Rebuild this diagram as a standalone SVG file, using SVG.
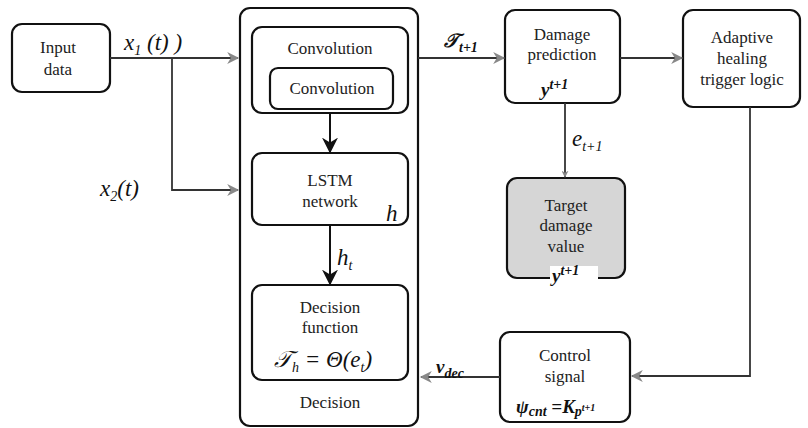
<svg xmlns="http://www.w3.org/2000/svg" width="808" height="428" viewBox="0 0 808 428">
<style>
text{font-family:"Liberation Serif","Times New Roman","DejaVu Serif",serif}
.box{fill:#fff;stroke:#111;stroke-width:2.2}
.gbox{fill:#d6d6d6;stroke:#111;stroke-width:2.2}
.t{font-size:17px;fill:#222;text-anchor:middle}
.m{font-style:italic;font-size:23px;fill:#111}
.mb{font-style:italic;font-weight:bold;font-size:19px;fill:#111}
.sub{font-size:14px}
.c{fill:none;stroke:#333;stroke-width:1.8}
.cb{fill:none;stroke:#111;stroke-width:2}
</style>
<defs>
<marker id="ga" viewBox="0 0 10 10" refX="9" refY="5" markerWidth="7" markerHeight="7" markerUnits="userSpaceOnUse" orient="auto">
<path d="M0,0 L10,5 L0,10 L3,5 Z" fill="#888"/>
</marker>
<marker id="ga2" viewBox="0 0 10 10" refX="9" refY="5" markerWidth="14" markerHeight="12" markerUnits="userSpaceOnUse" orient="auto">
<path d="M0,0 L10,5 L0,10 L3,5 Z" fill="#888"/>
</marker>
<marker id="ba" viewBox="0 0 10 10" refX="9" refY="5" markerWidth="16" markerHeight="16" markerUnits="userSpaceOnUse" orient="auto">
<path d="M0,0 L10,5 L0,10 L3,5 Z" fill="#111"/>
</marker>
</defs>
<g id="input">
<rect class="box" x="12" y="24" width="98" height="68" rx="10"/>
<text class="t" x="58" y="53">Input</text>
<text class="t" x="58" y="75">data</text>
</g>
<g id="decision">
<rect class="box" x="240" y="8" width="178" height="418" rx="10"/>
<text class="t" x="330" y="408">Decision</text>
</g>
<g id="convolution">
<rect class="box" x="252" y="27" width="156" height="86" rx="10"/>
<text class="t" x="330" y="54">Convolution</text>
</g>
<g id="convolution-inner">
<rect class="box" x="270" y="68" width="123" height="41" rx="8"/>
<text class="t" x="332" y="94">Convolution</text>
</g>
<g id="lstm">
<rect class="box" x="252" y="153" width="156" height="72" rx="10"/>
<text class="t" x="330" y="186">LSTM</text>
<text class="t" x="330" y="207">network</text>
<text class="m" x="386" y="221">h</text>
</g>
<g id="decision-function">
<rect class="box" x="252" y="285" width="156" height="95" rx="10"/>
<text class="t" x="330" y="313">Decision</text>
<text class="t" x="330" y="333">function</text>
<text class="m" x="274" y="367">𝒯<tspan class="sub" dy="5">h</tspan><tspan dy="-5">  = Θ(e</tspan><tspan class="sub" dy="5">t</tspan><tspan dy="-5">)</tspan></text>
</g>
<g id="damage-prediction">
<rect class="box" x="505" y="10" width="115" height="93" rx="10"/>
<text class="t" x="562" y="40">Damage</text>
<text class="t" x="562" y="60">prediction</text>
<text class="mb" x="541" y="96">y<tspan class="sub" dy="-7">t+1</tspan></text>
</g>
<g id="target">
<rect class="gbox" x="507" y="178" width="118" height="100" rx="10"/>
<text class="t" x="566" y="211">Target</text>
<text class="t" x="566" y="231">damage</text>
<text class="t" x="566" y="252">value</text>
<rect x="550" y="266" width="48" height="18" fill="#fff"/>
<text class="mb" x="552" y="282">y<tspan class="sub" dy="-7">t+1</tspan></text>
</g>
<g id="adaptive">
<rect class="box" x="683" y="10" width="117" height="97" rx="10"/>
<text class="t" x="742" y="43">Adaptive</text>
<text class="t" x="742" y="64">healing</text>
<text class="t" x="742" y="85">trigger logic</text>
</g>
<g id="control">
<rect class="box" x="500" y="332" width="130" height="90" rx="10"/>
<text class="t" x="565" y="361">Control</text>
<text class="t" x="565" y="382">signal</text>
<text class="mb" x="516" y="413">ψ<tspan class="sub" dy="3">cnt</tspan><tspan dy="-3"> =K</tspan><tspan class="sub" dy="3">p</tspan><tspan style="font-size:10px" dy="-5">t+1</tspan></text>
</g>
<g id="connectors">
<path class="c" d="M110,58 L238,58" marker-end="url(#ga2)"/>
<path class="c" d="M172,58 L172,190 L238,190" marker-end="url(#ga2)"/>
<path class="cb" d="M330,113 L330,152" marker-end="url(#ba)"/>
<path class="cb" d="M330,225 L330,284" marker-end="url(#ba)"/>
<path class="c" d="M418,58 L504,58" marker-end="url(#ga2)"/>
<path class="c" d="M620,58 L682,58" marker-end="url(#ga2)"/>
<path class="c" d="M565,103 L565,177" marker-end="url(#ga)"/>
<path class="c" d="M750,107 L750,376 L632,376" marker-end="url(#ga2)"/>
<path class="c" d="M500,377 L421,377" marker-end="url(#ga2)"/>
<text class="m" x="124" y="50">x<tspan class="sub" dy="5">1</tspan><tspan dy="-5"> (t)  )</tspan></text>
<text class="m" x="100" y="196">x<tspan class="sub" dy="5">2</tspan><tspan dy="-5">(t)</tspan></text>
<text class="m" x="337" y="265">h<tspan class="sub" dy="5">t</tspan></text>
<text class="mb" x="444" y="47">𝒯<tspan class="sub" dy="5">t+1</tspan></text>
<text class="m" x="572" y="146">e<tspan class="sub" dy="5">t+1</tspan></text>
<text class="mb" x="436" y="373">v<tspan class="sub" dy="5">dec</tspan></text>
</g>
</svg>
